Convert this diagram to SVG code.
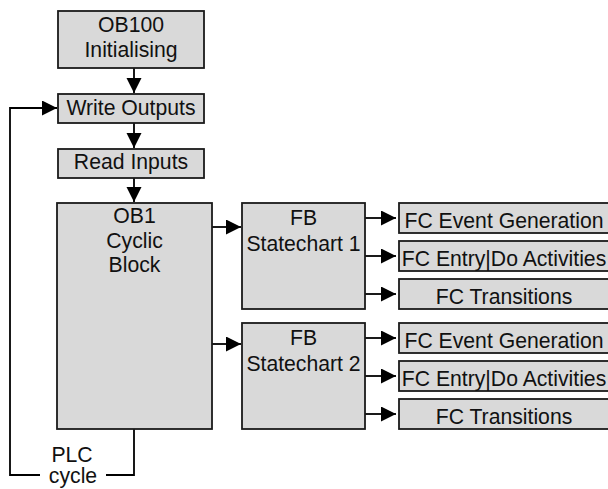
<svg xmlns="http://www.w3.org/2000/svg" width="608" height="489" viewBox="0 0 608 489">
<style>
.box{fill:#d9d9d9;stroke:#1a1a1a;stroke-width:1.8}
.t{font-family:"Liberation Sans",Arial,sans-serif;font-size:21.2px;fill:#111;text-anchor:middle}
.c{fill:none;stroke:#000;stroke-width:1.8}
</style>
<defs>
<marker id="ah" markerUnits="userSpaceOnUse" markerWidth="16" markerHeight="16" refX="15" refY="7.5" orient="auto">
<path d="M0,0 L15,7.5 L0,15 z" fill="#000"/>
</marker>
</defs>
<rect width="608" height="489" fill="#fff"/>
<g id="connectors">
<line class="c" x1="134" y1="68" x2="134" y2="93" marker-end="url(#ah)"/>
<line class="c" x1="134" y1="123" x2="134" y2="148" marker-end="url(#ah)"/>
<line class="c" x1="134" y1="178" x2="134" y2="202" marker-end="url(#ah)"/>
<path class="c" d="M134,429 V475 H106"/>
<path class="c" d="M40,475 H10 V108 H57" marker-end="url(#ah)"/>
<line class="c" x1="212" y1="227" x2="241" y2="227" marker-end="url(#ah)"/>
<line class="c" x1="212" y1="344" x2="241" y2="344" marker-end="url(#ah)"/>
<line class="c" x1="365" y1="218" x2="396" y2="218" marker-end="url(#ah)"/>
<line class="c" x1="365" y1="256" x2="396" y2="256" marker-end="url(#ah)"/>
<line class="c" x1="365" y1="294" x2="396" y2="294" marker-end="url(#ah)"/>
<line class="c" x1="365" y1="338" x2="396" y2="338" marker-end="url(#ah)"/>
<line class="c" x1="365" y1="376" x2="396" y2="376" marker-end="url(#ah)"/>
<line class="c" x1="365" y1="414" x2="396" y2="414" marker-end="url(#ah)"/>
<text class="t" x="72" y="462">PLC</text>
<text class="t" x="73" y="483">cycle</text>
</g>
<g id="ob100"><rect class="box" x="58" y="11" width="146" height="57"/><text class="t" x="131" y="32">OB100</text><text class="t" x="131" y="57">Initialising</text></g>
<g id="write"><rect class="box" x="58" y="94" width="146" height="29"/><text class="t" x="131" y="115">Write Outputs</text></g>
<g id="read"><rect class="box" x="58" y="149" width="146" height="29"/><text class="t" x="131" y="169">Read Inputs</text></g>
<g id="ob1"><rect class="box" x="57" y="203" width="155" height="226"/><text class="t" x="134.5" y="223">OB1</text><text class="t" x="134.5" y="248">Cyclic</text><text class="t" x="134.5" y="272">Block</text></g>
<g id="fb1"><rect class="box" x="242" y="203" width="123" height="106"/><text class="t" x="303.5" y="225">FB</text><text class="t" x="303.5" y="251">Statechart 1</text></g>
<g id="fb2"><rect class="box" x="242" y="323" width="123" height="106"/><text class="t" x="303.5" y="345">FB</text><text class="t" x="303.5" y="371">Statechart 2</text></g>
<g id="fc1a"><rect class="box" x="399" y="203" width="212" height="30"/><text class="t" x="504" y="228">FC Event Generation</text></g>
<g id="fc1b"><rect class="box" x="399" y="241" width="212" height="30"/><text class="t" x="504" y="266">FC Entry|Do Activities</text></g>
<g id="fc1c"><rect class="box" x="399" y="279" width="212" height="30"/><text class="t" x="504" y="304">FC Transitions</text></g>
<g id="fc2a"><rect class="box" x="399" y="323" width="212" height="30"/><text class="t" x="504" y="348">FC Event Generation</text></g>
<g id="fc2b"><rect class="box" x="399" y="361" width="212" height="30"/><text class="t" x="504" y="386">FC Entry|Do Activities</text></g>
<g id="fc2c"><rect class="box" x="399" y="399" width="212" height="30"/><text class="t" x="504" y="424">FC Transitions</text></g>
</svg>
